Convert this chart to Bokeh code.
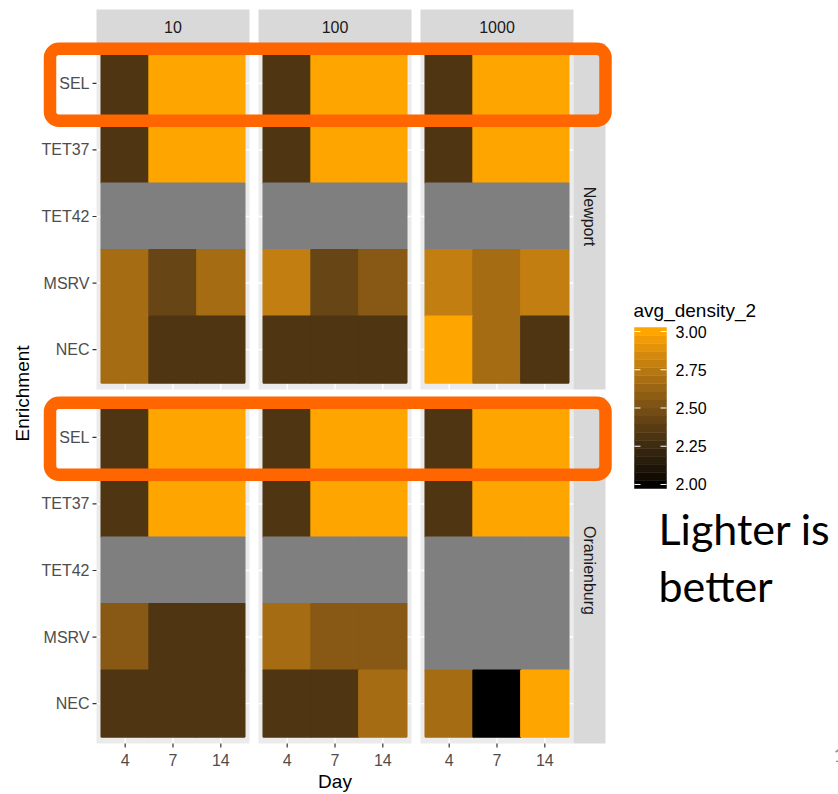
import math
import numpy as np
from bokeh.plotting import figure
from bokeh.models import Range1d, ColumnDataSource, LinearColorMapper
from bokeh.core.properties import value
from bokeh.embed import file_html
from bokeh.resources import INLINE

# ---------------- data ----------------
days = ["4", "7", "14"]
enrichments = ["SEL", "TET37", "TET42", "MSRV", "NEC"]   # top to bottom
doses = ["10", "100", "1000"]
strains = ["Newport", "Oranienburg"]
NA = float("nan")

# avg_density_2 ; rows follow `enrichments`, columns follow `days`
newport_10 = [[2.33, 3.00, 3.00], [2.33, 3.00, 3.00], [NA, NA, NA], [2.67, 2.43, 2.67], [2.67, 2.33, 2.33]]
newport_100 = [[2.33, 3.00, 3.00], [2.33, 3.00, 3.00], [NA, NA, NA], [2.78, 2.43, 2.56], [2.33, 2.33, 2.33]]
newport_1000 = [[2.33, 3.00, 3.00], [2.33, 3.00, 3.00], [NA, NA, NA], [2.78, 2.67, 2.78], [3.00, 2.67, 2.33]]
oranienburg_10 = [[2.33, 3.00, 3.00], [2.33, 3.00, 3.00], [NA, NA, NA], [2.56, 2.33, 2.33], [2.33, 2.33, 2.33]]
oranienburg_100 = [[2.33, 3.00, 3.00], [2.33, 3.00, 3.00], [NA, NA, NA], [2.67, 2.56, 2.56], [2.33, 2.33, 2.67]]
oranienburg_1000 = [[2.33, 3.00, 3.00], [2.33, 3.00, 3.00], [NA, NA, NA], [NA, NA, NA], [2.67, 2.00, 3.00]]

facets = {
    ("Newport", "10"): newport_10, ("Newport", "100"): newport_100, ("Newport", "1000"): newport_1000,
    ("Oranienburg", "10"): oranienburg_10, ("Oranienburg", "100"): oranienburg_100,
    ("Oranienburg", "1000"): oranienburg_1000,
}

legend_breaks = [2.00, 2.25, 2.50, 2.75, 3.00]
legend_labels = ["2.00", "2.25", "2.50", "2.75", "3.00"]
scale_low, scale_high = 2.0, 3.0
legend_title = "avg_density_2"
x_title = "Day"
y_title = "Enrichment"
note_lines = ["Lighter is", "better"]

# ---------------- colours (black -> orange in CIELAB, like ggplot) ----------------
def hex_to_lab(h):
    r, g, b = [int(h[i:i + 2], 16) / 255 for i in (1, 3, 5)]
    lin = [c / 12.92 if c <= 0.04045 else ((c + 0.055) / 1.055) ** 2.4 for c in (r, g, b)]
    X = 0.4124 * lin[0] + 0.3576 * lin[1] + 0.1805 * lin[2]
    Y = 0.2126 * lin[0] + 0.7152 * lin[1] + 0.0722 * lin[2]
    Z = 0.0193 * lin[0] + 0.1192 * lin[1] + 0.9505 * lin[2]
    def f(t):
        return t ** (1 / 3) if t > 0.008856 else 7.787 * t + 16 / 116
    fx, fy, fz = f(X / 0.95047), f(Y), f(Z / 1.08883)
    return 116 * fy - 16, 500 * (fx - fy), 200 * (fy - fz)

def lab_to_hex(L, a, b):
    fy = (L + 16) / 116
    fx = fy + a / 500
    fz = fy - b / 200
    def finv(t):
        return t ** 3 if t ** 3 > 0.008856 else (t - 16 / 116) / 7.787
    X, Y, Z = 0.95047 * finv(fx), finv(fy), 1.08883 * finv(fz)
    rl = 3.2406 * X - 1.5372 * Y - 0.4986 * Z
    gl = -0.9689 * X + 1.8758 * Y + 0.0415 * Z
    bl = 0.0557 * X - 0.2040 * Y + 1.0570 * Z
    out = []
    for c in (rl, gl, bl):
        c = max(0.0, min(1.0, c))
        c = 12.92 * c if c <= 0.0031308 else 1.055 * c ** (1 / 2.4) - 0.055
        out.append(int(round(c * 255)))
    return "#%02x%02x%02x" % tuple(out)

lo_lab, hi_lab = hex_to_lab("#000000"), hex_to_lab("#FFA500")
palette = [lab_to_hex(*[lo_lab[k] + (hi_lab[k] - lo_lab[k]) * i / 255 for k in range(3)]) for i in range(256)]
mapper = LinearColorMapper(palette=palette, low=scale_low, high=scale_high, nan_color="#7F7F7F")

# ---------------- geometry (pixels) ----------------
W, H = 838, 794
COL_LEFT = [96, 258, 420]
PANEL_W = 153
ROW_TOP = [43, 397]
PANEL_H = 346
STRIP_T = (9, 43)
STRIP_R = (573, 605)
FONT = value("Liberation Sans")
SMALL = "16px"
TITLE = "19px"

p = figure(width=W, height=H, output_backend="svg", toolbar_location=None,
           x_range=Range1d(0, W), y_range=Range1d(H, 0),
           x_axis_type=None, y_axis_type=None, min_border=0)
p.outline_line_color = None
p.grid.visible = False
p.background_fill_color = "white"
p.border_fill_color = "white"

nx, ny = len(days), len(enrichments)
ux = PANEL_W / (nx + 0.2)
uy = PANEL_H / (ny + 0.2)
for c, left in enumerate(COL_LEFT):
    s = 0.4 - left / ux
    p.extra_x_ranges[f"c{c}"] = Range1d(s, s + W / ux)
for r, top in enumerate(ROW_TOP):
    e = ny + 0.6 + top / uy
    p.extra_y_ranges[f"r{r}"] = Range1d(ny + 0.6 - (H - top) / uy, e)

# legend range: 20 colour bins, limits at bin centres
NBIN = 20
bar_top, bar_bot = 327, 488
binh = (scale_high - scale_low) / (NBIN - 1)
ul = (bar_bot - bar_top) / (scale_high - scale_low + binh)
v_bot = scale_low - binh / 2
p.extra_y_ranges["leg"] = Range1d(v_bot - (H - bar_bot) / ul, v_bot + bar_bot / ul)

xi = [i + 1 for i in range(nx)]
yi = [ny - j for j in range(ny)]

for r, strain in enumerate(strains):
    for c, dose in enumerate(doses):
        xr, yr = f"c{c}", f"r{r}"
        # panel background and grid
        p.quad(left=[0.4], right=[nx + 0.6], bottom=[0.4], top=[ny + 0.6], fill_color="#EBEBEB",
               line_color=None, x_range_name=xr, y_range_name=yr)
        p.segment(x0=xi, x1=xi, y0=[0.4] * nx, y1=[ny + 0.6] * nx, line_color="white", line_width=1.4,
                  x_range_name=xr, y_range_name=yr)
        p.segment(x0=[0.4] * ny, x1=[nx + 0.6] * ny, y0=yi, y1=yi, line_color="white", line_width=1.4,
                  x_range_name=xr, y_range_name=yr)
        # tiles
        vals = facets[(strain, dose)]
        src = ColumnDataSource(dict(
            x=[xi[k] for j in range(ny) for k in range(nx)],
            y=[yi[j] for j in range(ny) for k in range(nx)],
            v=[np.nan if (isinstance(vals[j][k], float) and math.isnan(vals[j][k])) else vals[j][k]
               for j in range(ny) for k in range(nx)],
        ))
        p.rect(x="x", y="y", width=1, height=1, source=src,
               fill_color={"field": "v", "transform": mapper},
               line_color={"field": "v", "transform": mapper}, line_width=1.6,
               x_range_name=xr, y_range_name=yr)

# top strips and x axis
for c, dose in enumerate(doses):
    xr = f"c{c}"
    p.quad(left=[0.4], right=[nx + 0.6], top=[STRIP_T[0]], bottom=[STRIP_T[1]], fill_color="#D9D9D9",
           line_color=None, x_range_name=xr)
    p.text(x=[(nx + 1) / 2], y=[(STRIP_T[0] + STRIP_T[1]) / 2], text=[dose], text_font=FONT,
           text_font_size=SMALL, text_color="#1A1A1A", text_align="center", text_baseline="middle",
           x_range_name=xr)
    bot = ROW_TOP[-1] + PANEL_H
    p.segment(x0=xi, x1=xi, y0=[bot] * nx, y1=[bot + 4] * nx, line_color="#333333", line_width=1.2,
              x_range_name=xr)
    p.text(x=xi, y=[bot + 16] * nx, text=days, text_font=FONT, text_font_size=SMALL,
           text_color="#4D4D4D", text_align="center", text_baseline="middle", x_range_name=xr)

# right strips and y axis
for r, strain in enumerate(strains):
    yr = f"r{r}"
    p.quad(left=[STRIP_R[0]], right=[STRIP_R[1]], bottom=[0.4], top=[ny + 0.6], fill_color="#D9D9D9",
           line_color=None, y_range_name=yr)
    p.text(x=[(STRIP_R[0] + STRIP_R[1]) / 2], y=[(ny + 1) / 2], text=[strain], text_font=FONT,
           text_font_size=SMALL, text_color="#1A1A1A", text_align="center", text_baseline="middle",
           angle=-math.pi / 2, y_range_name=yr)
    left = COL_LEFT[0]
    p.segment(x0=[left - 4] * ny, x1=[left] * ny, y0=yi, y1=yi, line_color="#333333", line_width=1.2,
              y_range_name=yr)
    p.text(x=[left - 7] * ny, y=yi, text=enrichments, text_font=FONT, text_font_size=SMALL,
           text_color="#4D4D4D", text_align="right", text_baseline="middle", y_range_name=yr)

# axis titles
p.text(x=[(COL_LEFT[0] + COL_LEFT[-1] + PANEL_W) / 2], y=[781], text=[x_title], text_font=FONT,
       text_font_size=TITLE, text_color="black", text_align="center", text_baseline="middle")
p.text(x=[22], y=[(ROW_TOP[0] + ROW_TOP[-1] + PANEL_H) / 2], text=[y_title], text_font=FONT,
       text_font_size=TITLE, text_color="black", text_align="center", text_baseline="middle",
       angle=math.pi / 2)

# legend
bins = [scale_low + i * binh for i in range(NBIN)]
leg_src = ColumnDataSource(dict(x=[650] * NBIN, y=bins))
p.rect(x="x", y="y", width=32, height=binh, fill_color={"field": "y", "transform": mapper},
       line_color={"field": "y", "transform": mapper}, line_width=0.5, y_range_name="leg",
       source=leg_src)
nb = len(legend_breaks)
p.segment(x0=[634] * nb, x1=[640] * nb, y0=legend_breaks, y1=legend_breaks, line_color="white",
          line_width=1, y_range_name="leg")
p.segment(x0=[660] * nb, x1=[666] * nb, y0=legend_breaks, y1=legend_breaks, line_color="white",
          line_width=1, y_range_name="leg")
p.text(x=[675] * nb, y=legend_breaks, text=legend_labels, text_font=FONT, text_font_size=SMALL,
       text_color="black", text_align="left", text_baseline="middle", y_range_name="leg")
p.text(x=[633], y=[310], text=[legend_title], text_font=FONT, text_font_size=TITLE,
       text_color="black", text_align="left", text_baseline="middle")

# highlight boxes around SEL rows
for r in range(len(strains)):
    p.quad(left=[49.5], right=[605], top=[ny + 0.5 + 0.02], bottom=[ny - 0.5 - 0.06],
           fill_color=None, line_color="#FF6600", line_width=12.5, border_radius=9,
           y_range_name=f"r{r}")

# annotation text
p.text(x=[658, 658], y=[528, 585], text=note_lines, text_font=value("Lato"), text_font_size="43px",
       text_color="black", text_align="left", text_baseline="middle")
p.text(x=[833], y=[754], text=["1"], text_font=value("Lato"), text_font_size="20px",
       text_color="#7B86D6", text_align="left", text_baseline="middle")

open("out.html", "w").write(file_html(p, INLINE))
